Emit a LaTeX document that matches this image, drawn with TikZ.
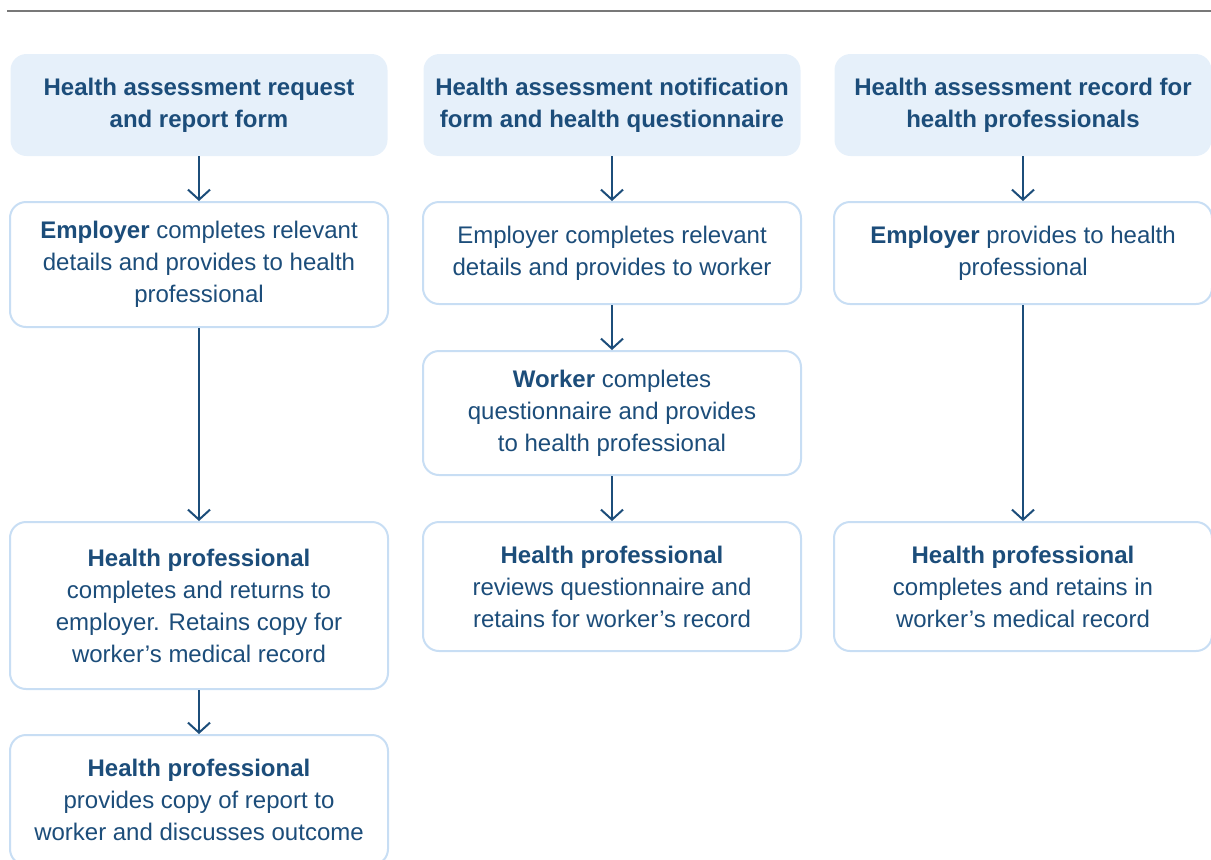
\documentclass[tikz,border=0pt]{standalone}
\usepackage{fontspec}
\setmainfont{Liberation Sans}
\usepackage{tikz}
\usetikzlibrary{arrows.meta}
\definecolor{navy}{RGB}{28,77,122}
\definecolor{headfill}{RGB}{230,240,250}
\definecolor{boxline}{RGB}{200,222,244}
\definecolor{rulegray}{RGB}{120,120,120}

\begin{document}
\begin{tikzpicture}[x = 0.5pt, y = -0.5pt,
	head/.style = {fill = headfill, rounded corners = 8pt, minimum width = 188.5pt, align = center, text = navy, font = \bfseries\fontsize{12}{16}\selectfont, inner sep = 0pt},
	stepbox/.style = {draw = boxline, line width = 1pt, rounded corners = 8pt, fill = white, minimum width = 189pt, align = center, text = navy, font = \fontsize{12}{16}\selectfont, inner sep = 0pt},
	flow/.style = {navy, line width = 1pt, -{Straight Barb[length = 5pt, width = 11pt]}}]
	\useasboundingbox (0, 0) rectangle (1211, 859);
	\draw[rulegray, line width = 1pt] (7, 11) -- (1211, 11);
	% first column
	\node[head, minimum height = 51pt] (H1) at (199, 105) {Health assessment request\\and report form};
	\node[stepbox, minimum height = 62.5pt] (E1) at (199, 264.5) {\textbf{Employer} completes relevant\\details and provides to health\\professional};
	\node[stepbox, minimum height = 83.5pt] (P1) at (199, 605.5) {\textbf{Health professional}\\completes and returns to\\employer. Retains copy for\\worker’s medical record};
	\node[stepbox, minimum height = 65pt] (R1) at (199, 800) {\textbf{Health professional}\\provides copy of report to\\worker and discusses outcome};
	% second column
	\node[head, minimum height = 51pt] (H2) at (612, 105) {Health assessment notification\\form and health questionnaire};
	\node[stepbox, minimum height = 51pt] (E2) at (612, 253) {Employer completes relevant\\details and provides to worker};
	\node[stepbox, minimum height = 62pt] (W2) at (612, 413) {\textbf{Worker} completes\\questionnaire and provides\\to health professional};
	\node[stepbox, minimum height = 64.5pt] (P2) at (612, 586.5) {\textbf{Health professional}\\reviews questionnaire and\\retains for worker’s record};
	% third column
	\node[head, minimum height = 51pt] (H3) at (1023, 105) {Health assessment record for\\health professionals};
	\node[stepbox, minimum height = 51pt] (E3) at (1023, 253) {\textbf{Employer} provides to health\\professional};
	\node[stepbox, minimum height = 64.5pt] (P3) at (1023, 586.5) {\textbf{Health professional}\\completes and retains in\\worker’s medical record};
	\draw[flow] (H1) -- (E1);
	\draw[flow] (E1) -- (P1);
	\draw[flow] (P1) -- (R1);
	\draw[flow] (H2) -- (E2);
	\draw[flow] (E2) -- (W2);
	\draw[flow] (W2) -- (P2);
	\draw[flow] (H3) -- (E3);
	\draw[flow] (E3) -- (P3);
\end{tikzpicture}
\end{document}
